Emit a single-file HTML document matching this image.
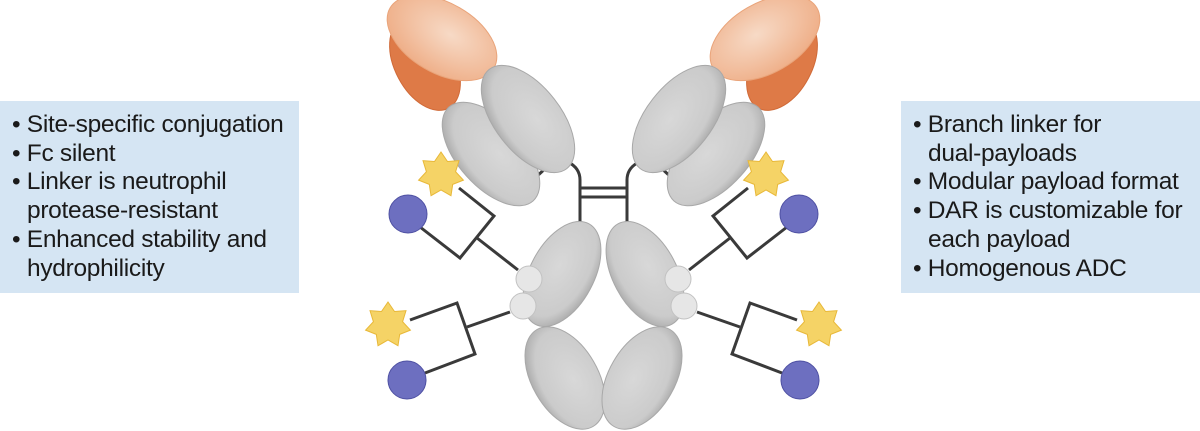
<!DOCTYPE html>
<html><head><meta charset="utf-8"><style>
body{margin:0;width:1200px;height:431px;background:#fff;position:relative;overflow:hidden;font-family:"Liberation Sans",sans-serif;}
.box{position:absolute;top:101px;height:192px;width:299px;background:#d5e5f3;}
.box div{position:absolute;font-size:24.5px;color:#1a1a1a;white-space:nowrap;line-height:28.7px;letter-spacing:-0.3px;}
svg{position:absolute;left:0;top:0}
</style></head><body>
<div class="box" style="left:0">
<div style="left:12px;top:10px">• Site-specific conjugation</div>
<div style="left:12px;top:38.7px">• Fc silent</div>
<div style="left:12px;top:67.4px">• Linker is neutrophil</div>
<div style="left:27px;top:96.1px">protease-resistant</div>
<div style="left:12px;top:124.8px">• Enhanced stability and</div>
<div style="left:27px;top:153.5px">hydrophilicity</div>
</div>
<div class="box" style="left:901px">
<div style="left:12px;top:10px">• Branch linker for</div>
<div style="left:27px;top:38.7px">dual-payloads</div>
<div style="left:12px;top:67.4px">• Modular payload format</div>
<div style="left:12px;top:96.1px">• DAR is customizable for</div>
<div style="left:27px;top:124.8px">each payload</div>
<div style="left:12px;top:153.5px">• Homogenous ADC</div>
</div>
<svg width="1200" height="431" viewBox="0 0 1200 431">
<defs>
<radialGradient id="g" cx="0.55" cy="0.4" r="0.6"><stop offset="0" stop-color="#d8d8d8"/><stop offset="0.8" stop-color="#cbcbcb"/><stop offset="1" stop-color="#b0b0b0"/></radialGradient>
<radialGradient id="o" cx="0.55" cy="0.4" r="0.6"><stop offset="0" stop-color="#f7dac6"/><stop offset="1" stop-color="#efb08a"/></radialGradient>
<polygon id="star" points="0,-23 6.5,-13.5 17.98,-14.34 14.6,-3.3 22.42,5.12 11.7,9.4 9.98,20.72 0,15 -9.98,20.72 -11.7,9.4 -22.42,5.12 -14.6,-3.3 -17.98,-14.34 -6.5,-13.5" fill="#f5d366" stroke="#e8b838"/>
<g id="half">
 <ellipse cx="425" cy="64" rx="50" ry="30" transform="rotate(62 425 64)" fill="#de7a47" stroke="#d06a38"/>
 <ellipse cx="442" cy="38" rx="60" ry="35" transform="rotate(30 442 38)" fill="url(#o)" stroke="#e9a47a"/>
 <path d="M535 178 L548 166" stroke="#3a3a3a" stroke-width="3" fill="none"/>
 <path d="M568 162 Q580 168 580 180 L580 222" stroke="#3a3a3a" stroke-width="3" fill="none"/>
 <ellipse cx="491" cy="154" rx="63" ry="33" transform="rotate(48 491 154)" fill="url(#g)" stroke="#a8a8a8"/>
 <ellipse cx="528" cy="119" rx="63" ry="33" transform="rotate(52 528 119)" fill="url(#g)" stroke="#a8a8a8"/>
 <ellipse cx="565" cy="378" rx="56" ry="33" transform="rotate(60 565 378)" fill="url(#g)" stroke="#a8a8a8"/>
 <ellipse cx="562" cy="274" rx="57" ry="32" transform="rotate(-62 562 274)" fill="url(#g)" stroke="#a8a8a8"/>
 <g stroke="#3a3a3a" stroke-width="3" fill="none">
  <path d="M518 270 L477 238"/>
  <path d="M459 188 L494 216 L460 258 L420 227"/>
  <path d="M510 312 L467 327"/>
  <path d="M410 320 L457 303 L475 354 L425 373"/>
 </g>
 <circle cx="529" cy="279" r="13" fill="#e6e6e6" stroke="#c2c2c2"/>
 <circle cx="523" cy="306" r="13" fill="#e6e6e6" stroke="#c2c2c2"/>
 <circle cx="408" cy="214" r="19" fill="#6d6fc0" stroke="#4f51a3"/>
 <circle cx="407" cy="380" r="19" fill="#6d6fc0" stroke="#4f51a3"/>
 <use href="#star" transform="translate(441 175)"/>
 <use href="#star" transform="translate(388 325)"/>
</g>
</defs>
<use href="#half"/>
<use href="#half" transform="translate(1207 0) scale(-1 1)"/>
<path d="M580 188 L627 188 M580 197 L627 197" stroke="#3a3a3a" stroke-width="3"/>
</svg>
</body></html>
